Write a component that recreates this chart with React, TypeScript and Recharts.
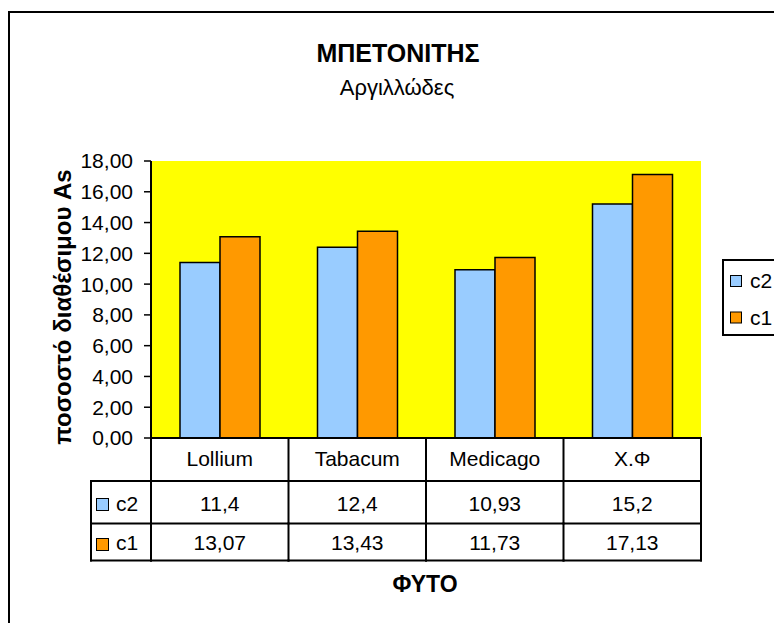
import React from 'react';
import { BarChart, Bar, XAxis, YAxis, CartesianGrid, Legend } from 'recharts';

const categories = ['Lollium', 'Tabacum', 'Medicago', 'Χ.Φ'];
const c2Values = [11.4, 12.4, 10.93, 15.2];
const c1Values = [13.07, 13.43, 11.73, 17.13];
const yTicks = [0, 2, 4, 6, 8, 10, 12, 14, 16, 18];
const seriesNames = ['c2', 'c1'];
const seriesColors = ['#99CCFF', '#FF9900'];

const data = categories.map((name, i) => ({ name, c2: c2Values[i], c1: c1Values[i] }));

const W = 774;
const H = 615;
const PLOT_LEFT = 143;
const PLOT_TOP = 153;
const PLOT_W = 550;
const PLOT_BOTTOM = 430;
const BAND = PLOT_W / categories.length;
const TABLE_LEFT = 83;
const ROW1 = 473;
const ROW2 = 515.5;
const ROW3 = 552.5;
const FONT = '"Liberation Sans", Arial, Helvetica, sans-serif';
const FS = 21;

const fmt = (v: number) => String(v).replace('.', ',');
const fmtTick = (v: number) => v.toFixed(2).replace('.', ',');

const line = { stroke: '#000', strokeWidth: 2, strokeLinecap: 'square' as const };

// category axis ticks draw the data table under the plot
const TableTick = (props: any) => {
  const { x, payload } = props;
  const i = categories.indexOf(payload.value);
  const left = x - BAND / 2;
  const right = x + BAND / 2;
  const txt = { textAnchor: 'middle' as const, fontSize: FS, fontFamily: FONT, fill: '#000' };
  return (
    <g>
      {i === 0 && (
        <g>
          <line x1={left} y1={PLOT_BOTTOM} x2={left} y2={ROW3} {...line} />
          <line x1={TABLE_LEFT} y1={ROW1} x2={left} y2={ROW1} {...line} />
          <line x1={TABLE_LEFT} y1={ROW2} x2={left} y2={ROW2} {...line} />
          <line x1={TABLE_LEFT} y1={ROW3} x2={left} y2={ROW3} {...line} />
          <line x1={TABLE_LEFT} y1={ROW1} x2={TABLE_LEFT} y2={ROW3} {...line} />
          {seriesNames.map((s, k) => (
            <g key={s}>
              <rect x={88.5} y={k === 0 ? 490.5 : 530.5} width={12} height={12} fill={seriesColors[k]} stroke="#000" strokeWidth={1} />
              <text x={108} y={k === 0 ? 502.5 : 542} fontSize={FS} fontFamily={FONT} fill="#000">{s}</text>
            </g>
          ))}
        </g>
      )}
      <line x1={right} y1={PLOT_BOTTOM} x2={right} y2={ROW3} {...line} />
      <line x1={left} y1={ROW1} x2={right} y2={ROW1} {...line} />
      <line x1={left} y1={ROW2} x2={right} y2={ROW2} {...line} />
      <line x1={left} y1={ROW3} x2={right} y2={ROW3} {...line} />
      <text x={x} y={458} {...txt}>{payload.value}</text>
      <text x={x} y={502.5} {...txt}>{fmt(c2Values[i])}</text>
      <text x={x} y={542} {...txt}>{fmt(c1Values[i])}</text>
    </g>
  );
};

const renderLegend = (props: any) => {
  const items = [...(props.payload || [])].sort(
    (a: any, b: any) => seriesNames.indexOf(a.value) - seriesNames.indexOf(b.value)
  );
  return (
    <svg width={57} height={77} style={{ display: 'block' }}>
      <rect x={1} y={1} width={55} height={75} fill="#fff" stroke="#000" strokeWidth={2} />
      {items.map((p: any, k: number) => (
        <g key={p.value}>
          <rect x={8.5} y={16.5 + k * 36.5} width={11} height={11} fill={p.payload?.fill ?? p.color} stroke="#000" strokeWidth={1} />
          <text x={28} y={29 + k * 37} fontSize={FS} fontFamily={FONT} fill="#000">{p.value}</text>
        </g>
      ))}
    </svg>
  );
};

export default function App() {
  return (
    <div style={{ position: 'relative', width: W, height: H, overflow: 'hidden', background: '#fff' }}>
      <div style={{ position: 'absolute', left: 0, top: 3, width: 800, height: 700, border: '2px solid #000' }} />
      <BarChart
        width={W}
        height={H}
        data={data}
        margin={{ top: PLOT_TOP, right: W - PLOT_LEFT - PLOT_W, bottom: 55, left: 0 }}
        barGap={0}
      >
        <CartesianGrid fill="#FFFF00" stroke="none" horizontal={false} vertical={false} />
        <XAxis
          dataKey="name"
          height={130}
          interval={0}
          tickLine={false}
          axisLine={{ stroke: '#000', strokeWidth: 2 }}
          tick={<TableTick />}
        />
        <XAxis xAxisId="top" orientation="top" dataKey="name" height={0} tick={false} tickLine={false} axisLine={{ stroke: '#808080', strokeWidth: 1.5 }} />
        <YAxis
          domain={[0, 18]}
          ticks={yTicks}
          interval={0}
          tickFormatter={fmtTick}
          width={PLOT_LEFT}
          tickSize={7}
          tickMargin={11}
          axisLine={{ stroke: '#000', strokeWidth: 2 }}
          tickLine={{ stroke: '#000', strokeWidth: 1.5 }}
          tick={{ fill: '#000', fontSize: FS, fontFamily: FONT }}
        />
        <YAxis yAxisId="r" orientation="right" width={0} tick={false} tickLine={false} axisLine={{ stroke: '#808080', strokeWidth: 1.5 }} />
        <Legend
          layout="vertical"
          align="center"
          verticalAlign="middle"
          wrapperStyle={{ left: 714, top: 251, width: 57, height: 77 }}
          content={renderLegend}
        />
        {seriesNames.map((s, k) => (
          <Bar key={s} dataKey={s} name={s} fill={seriesColors[k]} stroke="#000" strokeWidth={1.5} barSize={40} isAnimationActive={false} />
        ))}
      </BarChart>
      <svg width={W} height={H} style={{ position: 'absolute', left: 0, top: 0, pointerEvents: 'none' }}>
        <text x={390} y={54} textAnchor="middle" fontWeight="bold" fontSize={25} fontFamily={FONT} fill="#000">ΜΠΕΤΟΝΙΤΗΣ</text>
        <text x={389} y={87} textAnchor="middle" fontSize={22} fontFamily={FONT} fill="#000">Αργιλλώδες</text>
        <text transform="translate(63,299) rotate(-90)" textAnchor="middle" fontWeight="bold" fontSize={24} fontFamily={FONT} fill="#000">ποσοστό διαθέσιμου As</text>
        <text x={417} y={584} textAnchor="middle" fontWeight="bold" fontSize={23} fontFamily={FONT} fill="#000">ΦΥΤΟ</text>
      </svg>
    </div>
  );
}
